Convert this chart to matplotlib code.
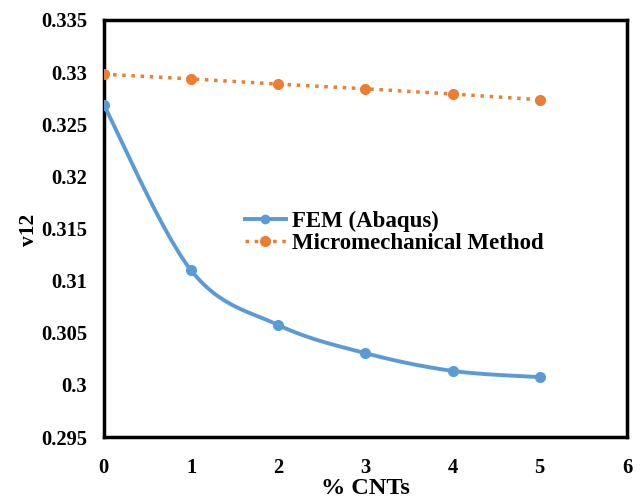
import numpy as np
import matplotlib
matplotlib.use("Agg")
import matplotlib.pyplot as plt
from matplotlib.lines import Line2D

cnt = [0, 1, 2, 3, 4, 5]
fem = [0.32685, 0.3110, 0.30575, 0.30305, 0.30135, 0.30075]
micro = [0.3298, 0.32935, 0.32885, 0.3284, 0.3279, 0.32735]
xticks = [0, 1, 2, 3, 4, 5, 6]
yticks = [0.295, 0.3, 0.305, 0.31, 0.315, 0.32, 0.325, 0.33, 0.335]
ylabels = ["0.295", "0.3", "0.305", "0.31", "0.315", "0.32", "0.325", "0.33", "0.335"]

def smooth(x, y, n=30):
    # Excel-like smoothing (Catmull-Rom Bezier) for rendering the line
    x = np.asarray(x, float); y = np.asarray(y, float)
    px = np.concatenate([[x[0]], x, [x[-1]]])
    py = np.concatenate([[y[0]], y, [y[-1]]])
    xs, ys = [], []
    for i in range(1, len(px) - 2):
        p0 = np.array([px[i - 1], py[i - 1]]); p1 = np.array([px[i], py[i]])
        p2 = np.array([px[i + 1], py[i + 1]]); p3 = np.array([px[i + 2], py[i + 2]])
        c1 = p1 + (p2 - p0) / 6.0
        c2 = p2 - (p3 - p1) / 6.0
        t = np.linspace(0, 1, n)[:, None]
        b = (1 - t) ** 3 * p1 + 3 * (1 - t) ** 2 * t * c1 + 3 * (1 - t) * t ** 2 * c2 + t ** 3 * p2
        xs.extend(b[:, 0]); ys.extend(b[:, 1])
    return xs, ys

plt.rcParams['font.family'] = ['Liberation Serif']
plt.rcParams['font.weight'] = 'bold'

fig = plt.figure(figsize=(6.41, 4.99), dpi=100)
ax = fig.add_axes([0.162, 0.124, 0.816, 0.836])

blue = '#5B9BD5'
orange = '#ED7D31'
sx, sy = smooth(cnt, fem)
ax.plot(sx, sy, color=blue, lw=2.8, zorder=3)
ax.plot(cnt, fem, 'o', color=blue, ms=7, zorder=4)
ax.plot(cnt, micro, ':', color=orange, lw=2.5, marker='o', ms=7, zorder=4)

h1 = Line2D([], [], color=blue, lw=2.8, marker='o', ms=6)
h2 = Line2D([], [], color=orange, lw=2.5, ls=':', marker='o', ms=7)
ax.legend([h1, h2], ['FEM (Abaqus)', 'Micromechanical Method'], loc='upper left',
          bbox_to_anchor=(0.2696, 0.543), frameon=False,
          borderpad=0, borderaxespad=0,
          handlelength=1.8, handletextpad=0.25, labelspacing=0.05,
          prop={'family': 'Liberation Serif', 'weight': 'bold', 'size': 16.5})

ax.set_xlim(0, 6)
ax.set_ylim(0.295, 0.335)
ax.set_xticks(xticks)
ax.set_yticks(yticks)
ax.set_yticklabels(ylabels)
ax.tick_params(length=0, labelsize=14.8)
ax.tick_params(axis='y', pad=12)
ax.tick_params(axis='x', pad=15)
for lab in ax.get_xticklabels() + ax.get_yticklabels():
    lab.set_fontweight('bold')
for s in ax.spines.values():
    s.set_linewidth(2.5)
fig.text(365 / 641, 5 / 499, '% CNTs', fontsize=17.5, fontweight='bold',
         ha='center', va='baseline')
fig.text(29 / 641, (499 - 230) / 499, 'v12', fontsize=15.5, fontweight='bold',
         ha='center', va='center', rotation=90)

fig.savefig('out.png', dpi=100)
